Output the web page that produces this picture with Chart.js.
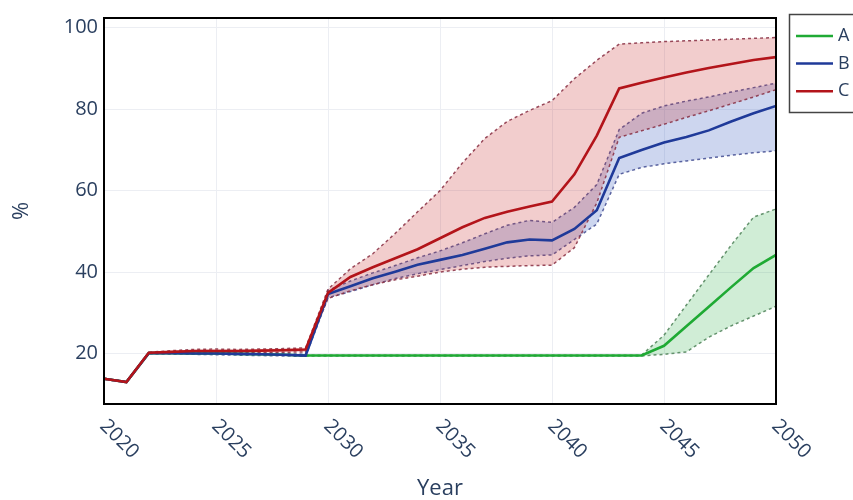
<!DOCTYPE html>
<html>
<head>
<meta charset="utf-8">
<script src="https://cdn.jsdelivr.net/npm/chart.js@4"></script>
<style>
  html, body { margin: 0; padding: 0; background: #fff; overflow: hidden; }
  #wrap { width: 853px; height: 500px; position: relative; }
</style>
</head>
<body>
<div id="wrap"><canvas id="chart" width="853" height="500"></canvas></div>
<script>
var years = [2020, 2021, 2022, 2023, 2024, 2025, 2026, 2027, 2028, 2029, 2030,
             2031, 2032, 2033, 2034, 2035, 2036, 2037, 2038, 2039, 2040,
             2041, 2042, 2043, 2044, 2045, 2046, 2047, 2048, 2049, 2050];
var xTicks = [2020, 2025, 2030, 2035, 2040, 2045, 2050];
var yTicks = [20, 40, 60, 80, 100];
var seriesNames = ['A', 'B', 'C'];

var aMean  = [13.8, 13.0, 20.1, 20.1, 20.0, 20.0, 19.9, 19.8, 19.7, 19.5, 19.5,
              19.5, 19.5, 19.5, 19.5, 19.5, 19.5, 19.5, 19.5, 19.5, 19.5,
              19.5, 19.5, 19.5, 19.5, 21.9, 26.7, 31.5, 36.3, 41.0, 44.2];
var aUpper = [13.8, 13.0, 20.1, 20.1, 20.0, 20.0, 19.9, 19.8, 19.7, 19.6, 19.6,
              19.6, 19.6, 19.6, 19.6, 19.6, 19.6, 19.6, 19.6, 19.6, 19.6,
              19.6, 19.6, 19.6, 19.6, 24.5, 31.9, 39.3, 46.6, 53.5, 55.5];
var aLower = [13.8, 13.0, 20.1, 20.1, 20.0, 20.0, 19.9, 19.8, 19.7, 19.4, 19.4,
              19.4, 19.4, 19.4, 19.4, 19.4, 19.4, 19.4, 19.4, 19.4, 19.4,
              19.4, 19.4, 19.4, 19.4, 19.8, 20.4, 24.0, 26.8, 29.2, 31.6];

var bMean  = [13.8, 13.0, 20.1, 20.1, 20.0, 20.0, 19.9, 19.8, 19.7, 19.5, 34.6,
              36.5, 38.5, 40.1, 41.8, 43.0, 44.2, 45.7, 47.3, 48.0, 47.8,
              50.6, 55.2, 68.0, 70.0, 71.8, 73.2, 74.8, 77.0, 79.0, 80.8];
var bUpper = [13.9, 13.1, 20.2, 20.3, 20.3, 20.3, 20.2, 20.1, 20.0, 19.8, 35.5,
              37.8, 39.8, 41.6, 43.5, 45.2, 47.2, 49.4, 51.5, 52.7, 52.2,
              55.9, 61.5, 75.0, 79.0, 80.8, 82.0, 83.0, 84.2, 85.3, 86.4];
var bLower = [13.7, 12.9, 20.0, 19.9, 19.8, 19.7, 19.6, 19.5, 19.4, 19.3, 33.7,
              35.2, 36.9, 38.4, 39.6, 40.6, 41.6, 42.6, 43.4, 44.0, 44.2,
              48.0, 51.8, 64.0, 65.7, 66.6, 67.3, 68.0, 68.7, 69.3, 69.8];

var cMean  = [13.8, 13.0, 20.2, 20.4, 20.6, 20.6, 20.6, 20.7, 20.8, 21.0, 34.9,
              38.8, 41.2, 43.4, 45.6, 48.3, 51.0, 53.3, 54.8, 56.1, 57.3,
              64.0, 73.5, 85.1, 86.5, 87.8, 89.0, 90.1, 91.1, 92.1, 92.8];
var cUpper = [13.9, 13.1, 20.3, 20.7, 21.0, 21.1, 21.0, 21.1, 21.2, 21.4, 35.8,
              40.8, 44.5, 49.5, 54.8, 60.0, 66.8, 72.8, 77.0, 79.7, 82.1,
              87.5, 92.0, 96.0, 96.3, 96.6, 96.8, 97.0, 97.2, 97.4, 97.6];
var cLower = [13.7, 12.9, 20.0, 20.0, 20.1, 20.2, 20.2, 20.2, 20.3, 20.4, 33.5,
              35.4, 36.9, 38.1, 39.0, 40.0, 40.7, 41.2, 41.4, 41.6, 41.7,
              46.0, 57.0, 73.1, 74.7, 76.3, 78.0, 79.6, 81.3, 83.0, 84.8];

var lineColors = ['#1faa34', '#1f3a99', '#b3141a'];
var boundColors = ['rgba(85,135,95,0.9)', 'rgba(65,75,145,0.85)', 'rgba(135,45,65,0.85)'];
var bandColors = ['rgba(40,175,70,0.22)', 'rgba(45,85,190,0.24)', 'rgba(200,45,45,0.24)'];
var textColor = '#2a3f5f';
var fontFamily = "'Open Sans', sans-serif";

function pts(values) {
    var out = [];
    for (var i = 0; i < years.length; i++) {
        out.push({ x: years[i], y: values[i] });
    }
    return out;
}

function meanSet(idx, values, order) {
    return {
        label: seriesNames[idx],
        data: pts(values),
        borderColor: lineColors[idx],
        borderWidth: 2.6,
        pointRadius: 0,
        fill: false,
        tension: 0,
        order: order
    };
}

function boundSet(idx, values, fill, order) {
    return {
        label: seriesNames[idx] + (fill === false ? ' upper' : ' lower'),
        data: pts(values),
        borderColor: boundColors[idx],
        backgroundColor: bandColors[idx],
        borderWidth: 1.5,
        borderDash: [3, 3],
        pointRadius: 0,
        fill: fill,
        tension: 0,
        order: order
    };
}

var datasets = [
    meanSet(2, cMean, 0),
    meanSet(1, bMean, 1),
    meanSet(0, aMean, 2),
    boundSet(2, cUpper, false, 3),
    boundSet(2, cLower, 3, 3),
    boundSet(1, bUpper, false, 4),
    boundSet(1, bLower, 5, 4),
    boundSet(0, aUpper, false, 5),
    boundSet(0, aLower, 7, 5)
];

// frame, rotated x labels and legend
var extras = {
    id: 'extras',
    afterDraw: function(chart) {
        var ctx = chart.ctx;
        var area = chart.chartArea;
        var xs = chart.scales.x;

        ctx.save();
        ctx.strokeStyle = '#000';
        ctx.lineWidth = 2;
        ctx.strokeRect(area.left, area.top, area.right - area.left, area.bottom - area.top);

        ctx.fillStyle = textColor;
        ctx.font = '20px ' + fontFamily;
        ctx.textAlign = 'left';
        ctx.textBaseline = 'middle';
        for (var i = 0; i < xTicks.length; i++) {
            var px = xs.getPixelForValue(xTicks[i]);
            ctx.save();
            ctx.translate(px - 1, area.bottom + 19);
            ctx.rotate(Math.PI / 4);
            ctx.fillText(String(xTicks[i]), 0, 0);
            ctx.restore();
        }

        // legend box, cut by the right edge like the original
        ctx.strokeStyle = '#444';
        ctx.lineWidth = 1.5;
        ctx.strokeRect(789.5, 14.5, 90, 98);
        ctx.font = '18px ' + fontFamily;
        for (var k = 0; k < seriesNames.length; k++) {
            var ly = 36 + k * 27.6;
            ctx.strokeStyle = lineColors[k];
            ctx.lineWidth = 2.5;
            ctx.beginPath();
            ctx.moveTo(796, ly);
            ctx.lineTo(833, ly);
            ctx.stroke();
            ctx.fillStyle = textColor;
            ctx.fillText(seriesNames[k], 838, ly);
        }
        ctx.restore();
    }
};

new Chart(document.getElementById('chart').getContext('2d'), {
    type: 'line',
    data: { datasets: datasets },
    plugins: [extras],
    options: {
        responsive: false,
        animation: false,
        layout: { padding: { top: 13, right: 77, left: 0, bottom: 0 } },
        plugins: {
            legend: { display: false },
            tooltip: { enabled: false }
        },
        scales: {
            x: {
                type: 'linear',
                min: 2020,
                max: 2050,
                afterBuildTicks: function(scale) {
                    scale.ticks = xTicks.map(function(v) { return { value: v }; });
                },
                afterFit: function(scale) { scale.height = 96; },
                ticks: { display: false },
                grid: { color: '#eceef3', drawTicks: false },
                border: { display: false },
                title: {
                    display: true,
                    text: 'Year',
                    color: textColor,
                    font: { family: fontFamily, size: 22, lineHeight: 1.0 },
                    padding: { top: 0, bottom: 0 }
                }
            },
            y: {
                min: 7.6,
                max: 102.4,
                afterBuildTicks: function(scale) {
                    scale.ticks = yTicks.map(function(v) { return { value: v }; });
                },
                afterFit: function(scale) { scale.width = 104; },
                ticks: {
                    color: textColor,
                    padding: 6,
                    font: { family: fontFamily, size: 20 }
                },
                grid: { color: '#eceef3', drawTicks: false },
                border: { display: false },
                title: {
                    display: true,
                    text: '%',
                    color: textColor,
                    font: { family: fontFamily, size: 22 },
                    padding: { top: 9, bottom: 0 }
                }
            }
        }
    }
});
</script>
</body>
</html>
